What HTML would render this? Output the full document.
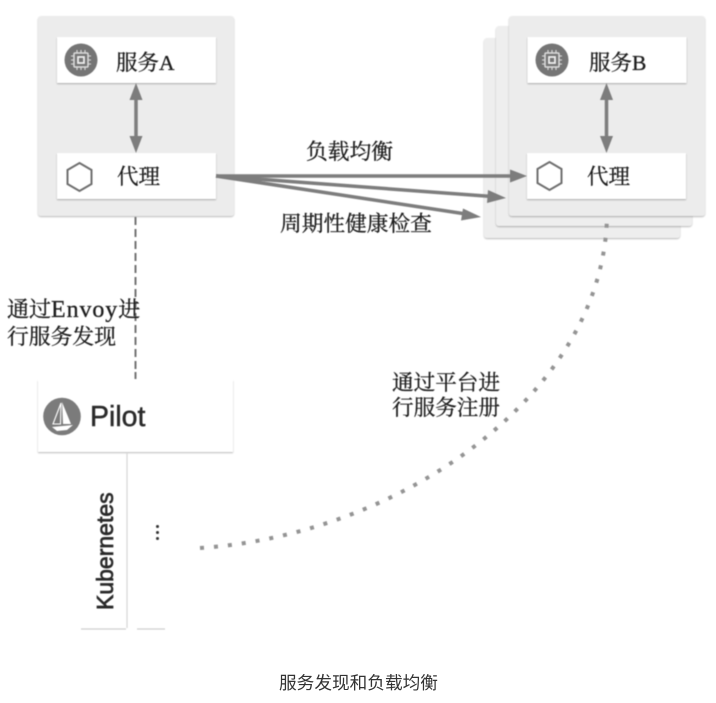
<!DOCTYPE html>
<html>
<head>
<meta charset="utf-8">
<style>
html,body{margin:0;padding:0;background:#fff;}
#c{position:relative;width:716px;height:703px;overflow:hidden;background:#fff;}
svg{position:absolute;left:0;top:0;}
#d{filter:blur(0.4px);}
#d text{font-family:"Liberation Serif","Noto Serif CJK SC",serif;fill:#1c1c1c;stroke:#1c1c1c;stroke-width:0.3px;}
#d text.s{font-family:"Liberation Sans",sans-serif;fill:#2a2a2a;stroke:#2a2a2a;stroke-width:0.45px;}
#d text.k{stroke-width:0.7px;}
#cap{position:absolute;left:279px;top:672px;font:17.67px/22px "Liberation Sans","Noto Sans CJK SC",sans-serif;color:#333;white-space:nowrap;}
</style>
</head>
<body>
<div id="c">
<svg width="716" height="703" viewBox="0 0 716 703" xmlns="http://www.w3.org/2000/svg">
<defs>
<filter id="sh" x="-5%" y="-5%" width="110%" height="110%"><feDropShadow dx="0" dy="1" stdDeviation="0.8" flood-color="#000" flood-opacity="0.28"/></filter>
<g id="chip">
<circle cx="0" cy="0" r="16.500" fill="#757575"/>
<rect x="-7" y="-7" width="14" height="14" rx="1" fill="none" stroke="#ddd" stroke-width="1.500"/>
<rect x="-3" y="-3" width="6" height="6" fill="none" stroke="#eee" stroke-width="1.800"/>
<path d="M-4-10v2.500M0-10v2.500M4-10v2.500M-4 7.500v2.500M0 7.500v2.500M4 7.500v2.500M-10-4h2.500M-10 0h2.500M-10 4h2.500M7.500-4h2.500M7.500 0h2.500M7.500 4h2.500" stroke="#ddd" stroke-width="1.100" fill="none"/>
</g>
<polygon id="hex" points="0,-14 12,-7 12,7 0,14 -12,7 -12,-7" fill="none" stroke="#6f6f6f" stroke-width="2"/>
</defs>
<g id="d">
<!-- Panel A -->
<rect x="38" y="16" width="196" height="200" rx="3" fill="#ececec" filter="url(#sh)"/>
<rect x="57" y="37" width="159" height="46" fill="#fff" filter="url(#sh)"/>
<rect x="57" y="153" width="159" height="46" fill="#fff" filter="url(#sh)"/>
<use href="#chip" x="81" y="60"/>
<use href="#hex" x="79.500" y="177"/>
<text x="116" y="70" font-size="21.500">服务A</text>
<text x="117" y="184" font-size="21.500">代理</text>
<path d="M136 92V144" stroke="#7d7d7d" stroke-width="3.500" fill="none"/>
<polygon points="136,83 142.500,100 129.500,100" fill="#7d7d7d"/>
<polygon points="136,153 142.500,136 129.500,136" fill="#7d7d7d"/>

<!-- Panel B stack -->
<rect x="484" y="38" width="196" height="200" rx="3" fill="#eeeeee" filter="url(#sh)"/>
<rect x="496" y="26" width="196" height="200" rx="3" fill="#eeeeee" filter="url(#sh)"/>
<rect x="509" y="16" width="196" height="200" rx="3" fill="#ececec" filter="url(#sh)"/>
<rect x="527.500" y="37" width="159" height="46" fill="#fff" filter="url(#sh)"/>
<rect x="527" y="153" width="159" height="46" fill="#fff" filter="url(#sh)"/>
<use href="#chip" x="552" y="60"/>
<use href="#hex" x="549.500" y="176"/>
<text x="589" y="70" font-size="21.500">服务B</text>
<text x="587" y="184" font-size="21.500">代理</text>
<path d="M606.500 92V144" stroke="#7d7d7d" stroke-width="3.500" fill="none"/>
<polygon points="606.500,83 613,100 600,100" fill="#7d7d7d"/>
<polygon points="606.500,153 613,136 600,136" fill="#7d7d7d"/>

<!-- Arrows -->
<g stroke="#7d7d7d" stroke-width="3.500" fill="none">
<path d="M216 176H512"/>
<path d="M216 176L492 196.500"/>
<path d="M216 176L466 214"/>
</g>
<polygon points="527,176 510,169.500 510,182.500" fill="#7d7d7d"/>
<polygon points="506,198 488,190 487,203" fill="#7d7d7d"/>
<polygon points="481,217 463,208.500 461,220.500" fill="#7d7d7d"/>
<text x="306" y="159" font-size="21.750">负载均衡</text>
<text x="280" y="231" font-size="21.700">周期性健康检查</text>

<!-- Dashed -->
<path d="M135.500 217V379" stroke="#737373" stroke-width="2" stroke-dasharray="8 4" fill="none"/>
<text x="7" y="317" font-size="22">通过<tspan font-size="24" letter-spacing="0.900">Envoy</tspan>进</text>
<text x="7" y="344" font-size="21.800">行服务发现</text>

<!-- Pilot -->
<rect x="38" y="380" width="195" height="72" fill="#fff" filter="url(#sh)"/>
<rect x="30" y="372" width="211" height="8" fill="#fff"/>
<path d="M135.500 372V379" stroke="#737373" stroke-width="2" fill="none"/>
<circle cx="62" cy="416.500" r="18.800" fill="#7b7b7b"/>
<path d="M61 403L53 424L60.500 424Z" fill="none" stroke="#fff" stroke-width="1.100"/>
<polygon points="62,402 71,424 63,424" fill="#fff"/>
<polygon points="52,427 73,425 67,430 57,431" fill="#fff"/>
<text class="s" x="90" y="426" font-size="28.500">Pilot</text>

<!-- Kubernetes -->
<path d="M127 453V628" stroke="#d8d8d8" stroke-width="1.300" fill="none"/>
<path d="M81 629H126" stroke="#cfcfcf" stroke-width="1.300" fill="none"/>
<path d="M137 629H165" stroke="#cfcfcf" stroke-width="1.300" fill="none"/>
<text class="s k" transform="translate(113,610) rotate(-90)" font-size="23">Kubernetes</text>
<circle cx="157.500" cy="526.500" r="1.500" fill="#333"/>
<circle cx="157.500" cy="532.500" r="1.500" fill="#333"/>
<circle cx="157.500" cy="538.500" r="1.500" fill="#333"/>

<!-- Dotted curve -->
<path d="M200 548C400 535 603 395 607 217" stroke="#949494" stroke-width="4" stroke-dasharray="4 10" fill="none"/>
<text x="392" y="390" font-size="21.600">通过平台进</text>
<text x="392" y="415" font-size="21.600">行服务注册</text>
</g>
</svg>
<div id="cap">服务发现和负载均衡</div>
</div>
</body>
</html>
